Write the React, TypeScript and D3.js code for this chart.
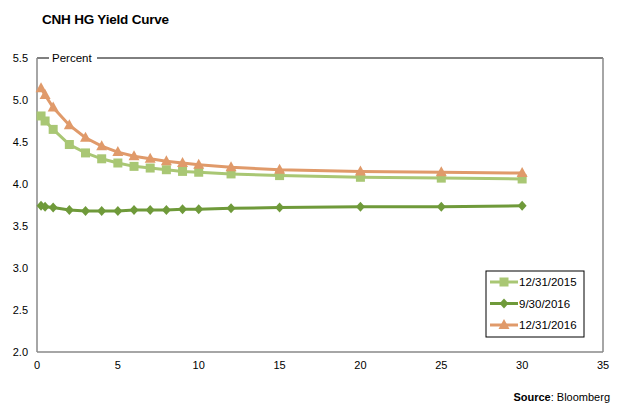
import React from "react";
import * as d3 from "d3";

const tenors = [0.25, 0.5, 1, 2, 3, 4, 5, 6, 7, 8, 9, 10, 12, 15, 20, 25, 30];
const series2015 = [4.81, 4.75, 4.65, 4.47, 4.37, 4.3, 4.25, 4.21, 4.19, 4.17, 4.15, 4.14, 4.12, 4.1, 4.08, 4.07, 4.06];
const series2016Sep = [3.74, 3.73, 3.72, 3.69, 3.68, 3.68, 3.68, 3.69, 3.69, 3.69, 3.7, 3.7, 3.71, 3.72, 3.73, 3.73, 3.74];
const series2016Dec = [5.14, 5.06, 4.91, 4.7, 4.55, 4.45, 4.38, 4.33, 4.3, 4.27, 4.25, 4.23, 4.2, 4.17, 4.15, 4.14, 4.13];
const seriesNames = ["12/31/2015", "9/30/2016", "12/31/2016"];
const xTicks = [0, 5, 10, 15, 20, 25, 30, 35];
const yTicks = [2.0, 2.5, 3.0, 3.5, 4.0, 4.5, 5.0, 5.5];

const colors = ["#a9c774", "#6f9a3a", "#e09a6a"];
const shapes = ["square", "diamond", "triangle"];

const W = 622, H = 408;
const left = 37, right = 603, top = 58, bottom = 352;

function Marker({ shape, x, y, color }: { shape: string; x: number; y: number; color: string }) {
  if (shape === "square") return <rect x={x - 4.5} y={y - 4.5} width={9} height={9} fill={color} />;
  if (shape === "diamond") return <path d={`M${x},${y - 5}L${x + 4.5},${y}L${x},${y + 5}L${x - 4.5},${y}Z`} fill={color} />;
  return <path d={`M${x},${y - 6}L${x + 5.5},${y + 4}L${x - 5.5},${y + 4}Z`} fill={color} />;
}

export default function App() {
  const xs = d3.scaleLinear().domain([0, 35]).range([left, right]);
  const ys = d3.scaleLinear().domain([2, 5.5]).range([bottom, top]);
  const data = [series2015, series2016Sep, series2016Dec];
  const line = d3.line<[number, number]>().x((d) => xs(d[0])).y((d) => ys(d[1]));
  const font = "Liberation Sans, Arial, sans-serif";
  const legendX = 486, legendY = 271;
  return (
    <svg width={W} height={H} style={{ position: "absolute", left: 0, top: 0 }} fontFamily={font}>
      <rect width={W} height={H} fill="#fff" />
      <text x={42} y={24} fontSize={13.5} fontWeight="bold" fill="#000" letterSpacing={-0.2}>CNH HG Yield Curve</text>
      {/* frame */}
      <line x1={left} y1={top} x2={49} y2={top} stroke="#000" strokeWidth={1} />
      <line x1={97} y1={top} x2={right} y2={top} stroke="#000" strokeWidth={1} />
      <text x={52} y={top + 4} fontSize={11.5} fill="#000">Percent</text>
      <line x1={right} y1={top} x2={right} y2={bottom} stroke="#888" strokeWidth={1.5} />
      <line x1={left} y1={top} x2={left} y2={bottom} stroke="#888" strokeWidth={1.5} />
      <line x1={left} y1={bottom} x2={right} y2={bottom} stroke="#888" strokeWidth={1.5} />
      {yTicks.map((t) => (
        <text key={t} x={28} y={ys(t) + 4} fontSize={11} textAnchor="end" fill="#000">{t.toFixed(1)}</text>
      ))}
      {xTicks.map((t) => (
        <text key={t} x={xs(t)} y={bottom + 17} fontSize={11} textAnchor="middle" fill="#000">{t}</text>
      ))}
      {data.map((s, i) => {
        const pts: [number, number][] = tenors.map((t, j) => [t, s[j]]);
        return (
          <g key={i}>
            <path d={line(pts) || ""} fill="none" stroke={colors[i]} strokeWidth={3} />
            {pts.map((p, j) => (
              <Marker key={j} shape={shapes[i]} x={xs(p[0])} y={ys(p[1])} color={colors[i]} />
            ))}
          </g>
        );
      })}
      {/* legend */}
      <rect x={legendX} y={legendY} width={98} height={66} fill="#fff" stroke="#000" strokeWidth={1} />
      {seriesNames.map((n, i) => {
        const y = legendY + 11 + i * 21.5;
        return (
          <g key={n}>
            <line x1={legendX + 4} y1={y} x2={legendX + 32} y2={y} stroke={colors[i]} strokeWidth={3} />
            <Marker shape={shapes[i]} x={legendX + 18} y={y} color={colors[i]} />
            <text x={legendX + 33} y={y + 4} fontSize={11.5} fill="#000">{n}</text>
          </g>
        );
      })}
      <text x={610} y={401} fontSize={11} textAnchor="end" fill="#000">
        <tspan fontWeight="bold">Source</tspan>: Bloomberg
      </text>
    </svg>
  );
}
